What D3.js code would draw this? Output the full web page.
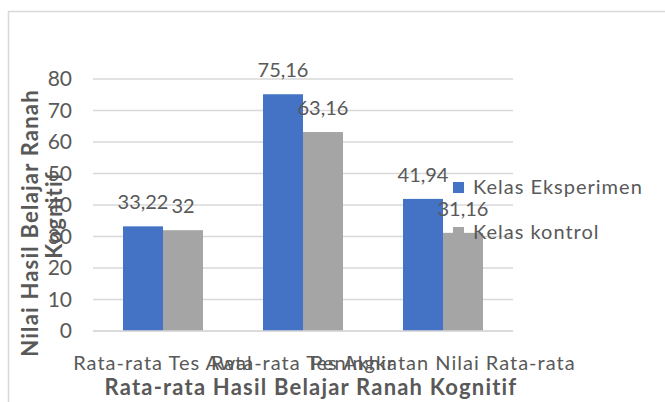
<!DOCTYPE html>
<html>
<head>
<meta charset="utf-8">
<script src="https://cdn.jsdelivr.net/npm/d3@7"></script>
<style>
  body { margin: 0; background: #fff; }
  text { font-family: Lato, "Open Sans", sans-serif; fill: #595959; }
</style>
</head>
<body>
<script>
// chart data
var categories = ["Rata-rata Tes Awal", "Rata-rata Tes Akhir", "Peningkatan Nilai Rata-rata"];
var seriesNames = ["Kelas Eksperimen", "Kelas kontrol"];
var eksperimen = [33.22, 75.16, 41.94];
var kontrol = [32, 63.16, 31.16];
var yTicks = [0, 10, 20, 30, 40, 50, 60, 70, 80];
var colors = ["#4472C4", "#A5A5A5"];

var width = 665, height = 402;
var plot = {left: 93, right: 513, top: 79, bottom: 331};

var svg = d3.select("body").append("svg")
  .attr("width", width)
  .attr("height", height);

// chart area border (runs on past the picture)
svg.append("rect")
  .attr("x", 8.5).attr("y", 11.5)
  .attr("width", 700).attr("height", 420)
  .attr("fill", "#fff")
  .attr("stroke", "#d9d9d9")
  .attr("stroke-width", 1.5);

var x = d3.scaleBand().domain(categories)
  .range([plot.left, plot.right])
  .paddingInner(0.4286).paddingOuter(0.2143);
var xs = d3.scaleBand().domain(seriesNames).range([0, x.bandwidth()]);
var y = d3.scaleLinear().domain([0, 80]).range([plot.bottom, plot.top]);

// gridlines
svg.append("g").selectAll("line")
  .data(yTicks)
  .enter().append("line")
  .attr("x1", plot.left).attr("x2", plot.right)
  .attr("y1", function(d) { return y(d); })
  .attr("y2", function(d) { return y(d); })
  .attr("stroke", "#d9d9d9")
  .attr("stroke-width", 1.3);

// y tick labels
var yAxis = svg.append("g")
  .attr("transform", "translate(" + (plot.left - 21) + ",0)")
  .call(d3.axisLeft(y).tickValues(yTicks).tickSize(0).tickPadding(0));
yAxis.select(".domain").remove();
yAxis.selectAll("text")
  .style("font-size", "21px")
  .style("font-family", "Lato, sans-serif")
  .attr("fill", "#595959");

// bars
var rows = categories.map(function(c, i) {
  return {cat: c, values: [eksperimen[i], kontrol[i]]};
});

var groups = svg.selectAll(".grp")
  .data(rows)
  .enter().append("g")
  .attr("class", "grp")
  .attr("transform", function(d) { return "translate(" + x(d.cat) + ",0)"; });

function pairs(d) {
  return d.values.map(function(v, j) { return {name: seriesNames[j], v: v, j: j}; });
}

groups.selectAll("rect")
  .data(pairs)
  .enter().append("rect")
  .attr("x", function(d) { return xs(d.name); })
  .attr("width", xs.bandwidth())
  .attr("y", function(d) { return y(d.v); })
  .attr("height", function(d) { return y(0) - y(d.v); })
  .attr("fill", function(d) { return colors[d.j]; });

// bottom axis line
svg.append("line")
  .attr("x1", plot.left).attr("x2", plot.right)
  .attr("y1", y(0)).attr("y2", y(0))
  .attr("stroke", "#d9d9d9").attr("stroke-width", 1.3);

// data labels
groups.selectAll(".lbl")
  .data(pairs)
  .enter().append("text")
  .attr("class", "lbl")
  .attr("x", function(d) { return xs(d.name) + xs.bandwidth() / 2; })
  .attr("y", function(d) { return y(d.v) - 17; })
  .attr("text-anchor", "middle")
  .style("font-size", "20px")
  .text(function(d) { return String(d.v).replace(".", ","); });

// category labels
svg.selectAll(".cat")
  .data(categories)
  .enter().append("text")
  .attr("class", "cat")
  .attr("x", function(d) { return x(d) + x.bandwidth() / 2; })
  .attr("y", 370)
  .attr("text-anchor", "middle")
  .style("font-size", "20px")
  .style("letter-spacing", "1px")
  .text(function(d) { return d; });

// axis titles
svg.append("text")
  .attr("x", 311).attr("y", 395)
  .attr("text-anchor", "middle")
  .style("font-size", "22px").style("font-weight", "bold")
  .style("letter-spacing", "1.2px")
  .text("Rata-rata Hasil Belajar Ranah Kognitif");

svg.append("text")
  .attr("transform", "translate(38,223) rotate(-90)")
  .attr("text-anchor", "middle")
  .style("font-size", "22px").style("font-weight", "bold")
  .style("letter-spacing", "1.2px")
  .text("Nilai Hasil Belajar Ranah");
svg.append("text")
  .attr("transform", "translate(62,215) rotate(-90)")
  .attr("text-anchor", "middle")
  .style("font-size", "22px").style("font-weight", "bold")
  .style("letter-spacing", "1.2px")
  .text("Kognitif");

// legend
var legend = svg.selectAll(".leg")
  .data(seriesNames)
  .enter().append("g")
  .attr("class", "leg")
  .attr("transform", function(d, i) { return "translate(453," + (182 + i * 45) + ")"; });
legend.append("rect")
  .attr("width", 11).attr("height", 11)
  .attr("fill", function(d, i) { return colors[i]; });
legend.append("text")
  .attr("x", 20).attr("y", 12)
  .style("font-size", "20px")
  .style("letter-spacing", "1px")
  .text(function(d) { return d; });
</script>
</body>
</html>
